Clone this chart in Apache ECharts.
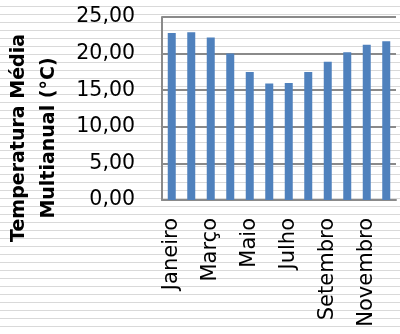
<!DOCTYPE html>
<html>
<head>
<meta charset="utf-8">
<script src="https://cdn.jsdelivr.net/npm/echarts@6/dist/echarts.min.js"></script>
<style>
  html, body { margin: 0; padding: 0; }
  body {
    width: 400px; height: 334px; overflow: hidden;
    /* fundo listrado */
    background: repeating-linear-gradient(to bottom,
      #ffffff 0px, #ffffff 5.6px, #d9d9d9 5.6px, #d9d9d9 7.4px, #ffffff 7.4px, #ffffff 8px);
  }
  #chart { width: 400px; height: 334px; }
</style>
</head>
<body>
<div id="chart"></div>
<script>
// meses
const months = ['Janeiro', 'Fevereiro', 'Março', 'Abril', 'Maio', 'Junho',
  'Julho', 'Agosto', 'Setembro', 'Outubro', 'Novembro', 'Dezembro'];
// temperatura média multianual (°C)
const temps = [22.8, 22.9, 22.2, 20.0, 17.5, 15.9, 16.0, 17.5, 18.9, 20.2, 21.2, 21.7];
const axisTitle = 'Temperatura Média\nMultianual (°C)';

const chart = echarts.init(document.getElementById('chart'));
const gridColor = '#8a8a8a';

chart.setOption({
  backgroundColor: 'transparent',
  animation: false,
  grid: { left: 162, top: 17, right: 4, bottom: 134, containLabel: false, outerBoundsMode: 'none' },
  xAxis: {
    type: 'category',
    data: months,
    axisLine: { show: true, lineStyle: { color: gridColor, width: 2 } },
    axisTick: { show: false },
    axisLabel: {
      interval: 1,
      rotate: 90,
      margin: 18,
      color: '#000',
      fontFamily: 'DejaVu Sans',
      fontSize: 21
    }
  },
  yAxis: {
    type: 'value',
    min: 0,
    max: 25,
    interval: 5,
    axisLine: { show: true, lineStyle: { color: gridColor, width: 2 } },
    axisTick: { show: false },
    splitLine: { show: true, lineStyle: { color: gridColor, width: 2 } },
    axisLabel: {
      margin: 27,
      color: '#000',
      fontFamily: 'DejaVu Sans',
      fontSize: 20.5,
      formatter: v => v.toFixed(2).replace('.', ',')
    }
  },
  // titulo do eixo y, em duas linhas
  graphic: [{
    type: 'text',
    x: 34,
    y: 138,
    rotation: Math.PI / 2,
    style: {
      text: axisTitle,
      fontFamily: 'DejaVu Sans',
      fontWeight: 'bold',
      fontSize: 19,
      lineHeight: 30,
      fill: '#000',
      textAlign: 'center',
      textVerticalAlign: 'middle'
    }
  }],
  series: [{
    type: 'bar',
    data: temps,
    barWidth: 8,
    itemStyle: { color: '#4f81bd' }
  }]
});
</script>
</body>
</html>
